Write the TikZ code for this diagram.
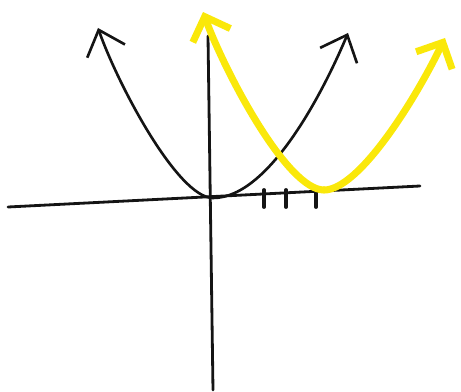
\documentclass[tikz,border=0pt]{standalone}
\usepackage{tikz}
\usetikzlibrary{arrows.meta}
\usepackage{xcolor}
\definecolor{sketchblack} {RGB}{20,  20,  20}
\definecolor{sketchyellow}{RGB}{250, 232, 10}

\begin{document}
\begin{tikzpicture}[
  x=0.02cm,y=-0.02cm,
  axisline/.style={draw=sketchblack,line width=1.6pt,line cap=round},
  ticksty/.style={draw=sketchblack,line width=2.2pt,line cap=round},
  blackcurve/.style={draw=sketchblack,line width=1.5pt,line cap=round,
                     -{Straight Barb[length=4.5mm,width=8mm,line width=1.5pt]}},
  yellowcurve/.style={draw=sketchyellow,line width=4pt,line cap=round,
                      -{Straight Barb[length=4mm,width=8mm,line width=4pt]}},
]

%% Bounding box (pixel frame of the sketch)
\useasboundingbox (0,0) rectangle (461,392);

%% Axes
\coordinate (xl) at (8,207);
\coordinate (xr) at (420,186);
\coordinate (yt) at (208,36);
\coordinate (yb) at (213,390);
\draw[axisline] (xl) -- (xr);
\draw[axisline] (yt) -- (yb);

%% Tick marks
\foreach \tx in {264,286,316}
  \draw[ticksty] (\tx,190) -- (\tx,207);

%% Black parabola (vertex at origin)
\coordinate (bv)  at (213,198);
\coordinate (btl) at (98,28);
\coordinate (btr) at (348,33);
\draw[blackcurve] (bv) .. controls (178,198) and (118,85) .. (btl);
\draw[blackcurve] (bv) .. controls (270,198) and (325,88) .. (btr);

%% Yellow parabola (shifted three units right)
\coordinate (yv)  at (324,190);
\coordinate (ytl) at (203,12);
\coordinate (ytr) at (445,38);
\draw[yellowcurve] (yv) .. controls (287,190) and (225,72) .. (ytl);
\draw[yellowcurve] (yv) .. controls (359,190) and (415,100) .. (ytr);

\end{tikzpicture}
\end{document}
